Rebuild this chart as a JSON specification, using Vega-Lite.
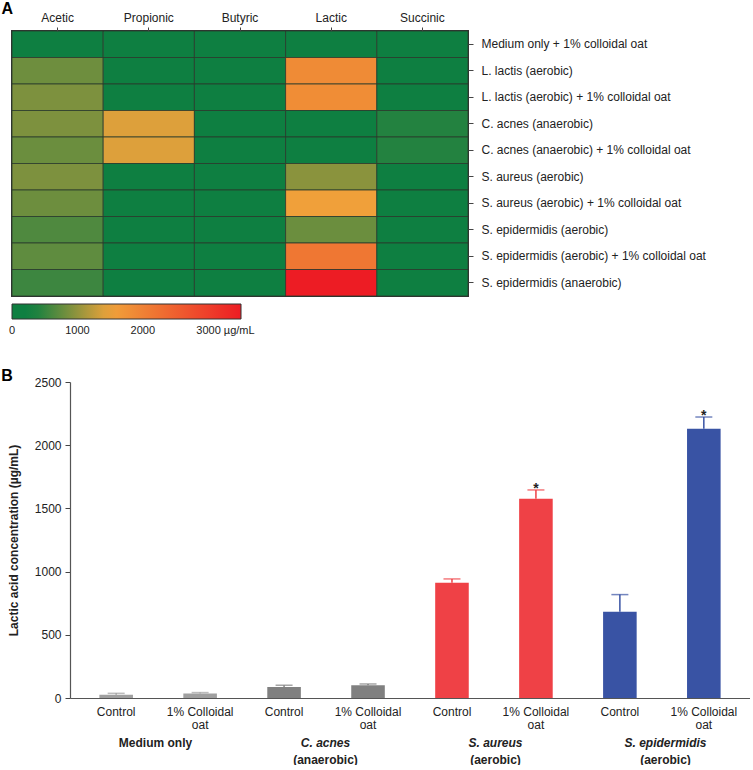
{
  "$schema": "https://vega.github.io/schema/vega-lite/v6.json",
  "padding": {"left": 0, "top": 0, "right": 0, "bottom": 0},
  "background": "white",
  "config": {
    "font": "Liberation Sans",
    "view": {"stroke": null},
    "axis": {"labelFont": "Liberation Sans", "labelFontSize": 12, "labelColor": "#222", "domainColor": "#444", "tickColor": "#444", "grid": false, "titleFont": "Liberation Sans"},
    "legend": {"labelFont": "Liberation Sans"},
    "title": {"font": "Liberation Sans"}
  },
  "datasets": {
    "heat": [
      {"sample": "Medium only + 1% colloidal oat", "acid": "Acetic", "conc": 100},
      {"sample": "Medium only + 1% colloidal oat", "acid": "Propionic", "conc": 0},
      {"sample": "Medium only + 1% colloidal oat", "acid": "Butyric", "conc": 0},
      {"sample": "Medium only + 1% colloidal oat", "acid": "Lactic", "conc": 38},
      {"sample": "Medium only + 1% colloidal oat", "acid": "Succinic", "conc": 0},
      {"sample": "L. lactis (aerobic)", "acid": "Acetic", "conc": 811},
      {"sample": "L. lactis (aerobic)", "acid": "Propionic", "conc": 0},
      {"sample": "L. lactis (aerobic)", "acid": "Butyric", "conc": 0},
      {"sample": "L. lactis (aerobic)", "acid": "Lactic", "conc": 1860},
      {"sample": "L. lactis (aerobic)", "acid": "Succinic", "conc": 0},
      {"sample": "L. lactis (aerobic) + 1% colloidal oat", "acid": "Acetic", "conc": 892},
      {"sample": "L. lactis (aerobic) + 1% colloidal oat", "acid": "Propionic", "conc": 0},
      {"sample": "L. lactis (aerobic) + 1% colloidal oat", "acid": "Butyric", "conc": 0},
      {"sample": "L. lactis (aerobic) + 1% colloidal oat", "acid": "Lactic", "conc": 1830},
      {"sample": "L. lactis (aerobic) + 1% colloidal oat", "acid": "Succinic", "conc": 0},
      {"sample": "C. acnes (anaerobic)", "acid": "Acetic", "conc": 887},
      {"sample": "C. acnes (anaerobic)", "acid": "Propionic", "conc": 1400},
      {"sample": "C. acnes (anaerobic)", "acid": "Butyric", "conc": 0},
      {"sample": "C. acnes (anaerobic)", "acid": "Lactic", "conc": 90},
      {"sample": "C. acnes (anaerobic)", "acid": "Succinic", "conc": 411},
      {"sample": "C. acnes (anaerobic) + 1% colloidal oat", "acid": "Acetic", "conc": 792},
      {"sample": "C. acnes (anaerobic) + 1% colloidal oat", "acid": "Propionic", "conc": 1400},
      {"sample": "C. acnes (anaerobic) + 1% colloidal oat", "acid": "Butyric", "conc": 0},
      {"sample": "C. acnes (anaerobic) + 1% colloidal oat", "acid": "Lactic", "conc": 100},
      {"sample": "C. acnes (anaerobic) + 1% colloidal oat", "acid": "Succinic", "conc": 411},
      {"sample": "S. aureus (aerobic)", "acid": "Acetic", "conc": 887},
      {"sample": "S. aureus (aerobic)", "acid": "Propionic", "conc": 0},
      {"sample": "S. aureus (aerobic)", "acid": "Butyric", "conc": 0},
      {"sample": "S. aureus (aerobic)", "acid": "Lactic", "conc": 960},
      {"sample": "S. aureus (aerobic)", "acid": "Succinic", "conc": 0},
      {"sample": "S. aureus (aerobic) + 1% colloidal oat", "acid": "Acetic", "conc": 802},
      {"sample": "S. aureus (aerobic) + 1% colloidal oat", "acid": "Propionic", "conc": 0},
      {"sample": "S. aureus (aerobic) + 1% colloidal oat", "acid": "Butyric", "conc": 0},
      {"sample": "S. aureus (aerobic) + 1% colloidal oat", "acid": "Lactic", "conc": 1545},
      {"sample": "S. aureus (aerobic) + 1% colloidal oat", "acid": "Succinic", "conc": 0},
      {"sample": "S. epidermidis (aerobic)", "acid": "Acetic", "conc": 643},
      {"sample": "S. epidermidis (aerobic)", "acid": "Propionic", "conc": 0},
      {"sample": "S. epidermidis (aerobic)", "acid": "Butyric", "conc": 0},
      {"sample": "S. epidermidis (aerobic)", "acid": "Lactic", "conc": 792},
      {"sample": "S. epidermidis (aerobic)", "acid": "Succinic", "conc": 0},
      {"sample": "S. epidermidis (aerobic) + 1% colloidal oat", "acid": "Acetic", "conc": 728},
      {"sample": "S. epidermidis (aerobic) + 1% colloidal oat", "acid": "Propionic", "conc": 0},
      {"sample": "S. epidermidis (aerobic) + 1% colloidal oat", "acid": "Butyric", "conc": 0},
      {"sample": "S. epidermidis (aerobic) + 1% colloidal oat", "acid": "Lactic", "conc": 2152},
      {"sample": "S. epidermidis (aerobic) + 1% colloidal oat", "acid": "Succinic", "conc": 0},
      {"sample": "S. epidermidis (anaerobic)", "acid": "Acetic", "conc": 548},
      {"sample": "S. epidermidis (anaerobic)", "acid": "Propionic", "conc": 0},
      {"sample": "S. epidermidis (anaerobic)", "acid": "Butyric", "conc": 0},
      {"sample": "S. epidermidis (anaerobic)", "acid": "Lactic", "conc": 3500},
      {"sample": "S. epidermidis (anaerobic)", "acid": "Succinic", "conc": 0}
    ],
    "bars": [
      {"key": "Medium only / Control", "group": "Medium only", "treatment": "Control", "mean": 26, "upper": 37, "sig": ""},
      {"key": "Medium only / 1% Colloidal oat", "group": "Medium only", "treatment": "1% Colloidal oat", "mean": 36, "upper": 43, "sig": ""},
      {"key": "C. acnes / Control", "group": "C. acnes", "treatment": "Control", "mean": 88, "upper": 101, "sig": ""},
      {"key": "C. acnes / 1% Colloidal oat", "group": "C. acnes", "treatment": "1% Colloidal oat", "mean": 100, "upper": 111, "sig": ""},
      {"key": "S. aureus / Control", "group": "S. aureus", "treatment": "Control", "mean": 911, "upper": 942, "sig": ""},
      {"key": "S. aureus / 1% Colloidal oat", "group": "S. aureus", "treatment": "1% Colloidal oat", "mean": 1577, "upper": 1646, "sig": "*"},
      {"key": "S. epidermidis / Control", "group": "S. epidermidis", "treatment": "Control", "mean": 683, "upper": 818, "sig": ""},
      {"key": "S. epidermidis / 1% Colloidal oat", "group": "S. epidermidis", "treatment": "1% Colloidal oat", "mean": 2131, "upper": 2223, "sig": "*"}
    ]
  },
  "spacing": 31,
  "resolve": {"scale": {"color": "independent"}, "legend": {"color": "independent"}},
  "vconcat": [
    {
      "title": {"text": "A", "anchor": "start", "fontSize": 16, "fontWeight": "bold", "dx": -10, "offset": -6, "color": "#000"},
      "width": 456,
      "height": 265,
      "view": {"stroke": "#333", "strokeWidth": 2},
      "data": {"name": "heat"},
      "mark": {"type": "rect", "stroke": "#2a3a2c", "strokeWidth": 0.8},
      "encoding": {
        "x": {
          "field": "acid", "type": "nominal",
          "sort": ["Acetic", "Propionic", "Butyric", "Lactic", "Succinic"],
          "scale": {"paddingInner": 0, "paddingOuter": 0},
          "axis": {"orient": "top", "title": null, "labelAngle": 0, "tickSize": 4, "labelPadding": 3, "domain": false, "labelFontSize": 12}
        },
        "y": {
          "field": "sample", "type": "nominal",
          "sort": ["Medium only + 1% colloidal oat", "L. lactis (aerobic)", "L. lactis (aerobic) + 1% colloidal oat", "C. acnes (anaerobic)", "C. acnes (anaerobic) + 1% colloidal oat", "S. aureus (aerobic)", "S. aureus (aerobic) + 1% colloidal oat", "S. epidermidis (aerobic)", "S. epidermidis (aerobic) + 1% colloidal oat", "S. epidermidis (anaerobic)"],
          "scale": {"paddingInner": 0, "paddingOuter": 0},
          "axis": {"orient": "right", "title": null, "tickSize": 5, "labelPadding": 8, "domain": false, "labelFontSize": 12, "labelLimit": 300}
        },
        "color": {
          "field": "conc", "type": "quantitative",
          "scale": {"domain": [0, 300, 1500, 3500], "range": ["#0e7f41", "#0e7f41", "#f0a33a", "#ed1c24"], "interpolate": "rgb"},
          "legend": {
            "orient": "none", "legendX": 0, "legendY": 273, "direction": "horizontal",
            "title": null, "gradientLength": 229, "gradientThickness": 15,
            "gradientStrokeColor": "#333", "gradientStrokeWidth": 1,
            "values": [0, 1000, 2000, 3000], "format": "d", "labelFontSize": 11, "labelColor": "#222",
            "labelOverlap": false, "labelOffset": 6,
            "labelExpr": "datum.value == 3000 ? '3000 µg/mL' : datum.label",
            "encode": {"labels": {"update": {"align": {"signal": "datum.value == 3000 ? 'left' : 'center'"}, "dx": {"signal": "datum.value == 3000 ? -12 : 0"}}}}
          }
        }
      }
    },
    {
      "title": {"text": "B", "anchor": "start", "frame": "bounds", "fontSize": 16, "fontWeight": "bold", "dx": -6, "offset": -8, "color": "#000"},
      "width": 738,
      "height": 316,
      "data": {"name": "bars"},
      "layer": [
        {
          "encoding": {
            "x": {
              "field": "key", "type": "nominal", "sort": null,
              "scale": {"paddingInner": 0.6, "paddingOuter": 0.35, "range": [58, 738]},
              "axis": {"orient": "bottom", "title": null, "labelAngle": 0, "ticks": false, "tickSize": 0, "labelPadding": 8, "labelLineHeight": 13, "labelOverlap": false, "domainColor": "#555", "domainWidth": 1.2,
                "labelExpr": "indexof(datum.value, 'Control') >= 0 ? 'Control' : ['1% Colloidal', 'oat']"}
            }
          },
          "layer": [
            {
              "mark": {"type": "bar"},
              "encoding": {
                "y": {"field": "mean", "type": "quantitative", "scale": {"domain": [0, 2500], "nice": false},
                  "axis": {"title": "Lactic acid concentration (µg/mL)", "offset": -58, "titleFontWeight": "bold", "titleFontSize": 12, "titleColor": "#222", "values": [0, 500, 1000, 1500, 2000, 2500], "format": "d", "tickSize": 5, "labelPadding": 4, "titlePadding": 14, "domainColor": "#555", "domainWidth": 1.2}},
                "color": {"field": "group", "type": "nominal",
                  "scale": {"domain": ["Medium only", "C. acnes", "S. aureus", "S. epidermidis"], "range": ["#a0a0a0", "#808080", "#ef4146", "#3953a4"]},
                  "legend": null}
              }
            },
            {
              "mark": {"type": "rule", "strokeWidth": 1.5},
              "encoding": {
                "y": {"field": "mean", "type": "quantitative", "axis": {"title": "Lactic acid concentration (µg/mL)"}},
                "y2": {"field": "upper"},
                "color": {"field": "group", "type": "nominal", "legend": null}
              }
            },
            {
              "mark": {"type": "tick", "orient": "horizontal", "size": 17, "thickness": 1.5},
              "encoding": {
                "y": {"field": "upper", "type": "quantitative", "axis": {"title": "Lactic acid concentration (µg/mL)"}},
                "color": {"field": "group", "type": "nominal", "legend": null}
              }
            },
            {
              "mark": {"type": "text", "baseline": "alphabetic", "fontSize": 14, "fontWeight": "bold", "color": "#222", "dy": 3},
              "encoding": {
                "y": {"field": "upper", "type": "quantitative", "axis": {"title": "Lactic acid concentration (µg/mL)"}},
                "text": {"field": "sig"}
              }
            }
          ]
        },
        {
          "mark": {"type": "point", "opacity": 0},
          "encoding": {
            "x": {
              "field": "group", "type": "nominal", "sort": null,
              "scale": {"paddingInner": 0, "paddingOuter": 0.025, "range": [58, 738]},
              "axis": {"orient": "bottom", "title": null, "labelAngle": 0, "ticks": false, "tickSize": 0, "domain": false, "labelPadding": 39, "labelOverlap": false, "labelFontWeight": "bold",
                "labelFontStyle": {"condition": {"test": "datum.value == 'Medium only'", "value": "normal"}, "value": "italic"}}
            },
            "y": {"field": "mean", "type": "quantitative", "axis": {"title": "Lactic acid concentration (µg/mL)"}}
          }
        },
        {
          "mark": {"type": "point", "opacity": 0},
          "encoding": {
            "x": {
              "field": "group", "type": "nominal", "sort": null,
              "scale": {"paddingInner": 0, "paddingOuter": 0.025, "range": [58, 738]},
              "axis": {"orient": "bottom", "title": null, "labelAngle": 0, "ticks": false, "tickSize": 0, "domain": false, "labelPadding": 56, "labelOverlap": false, "labelFontWeight": "bold",
                "labelExpr": "datum.value == 'C. acnes' ? '(anaerobic)' : (datum.value == 'Medium only' ? '' : '(aerobic)')"}
            },
            "y": {"field": "mean", "type": "quantitative", "axis": {"title": "Lactic acid concentration (µg/mL)"}}
          }
        }
      ],
      "resolve": {"scale": {"x": "independent"}, "axis": {"x": "independent"}}
    }
  ]
}
